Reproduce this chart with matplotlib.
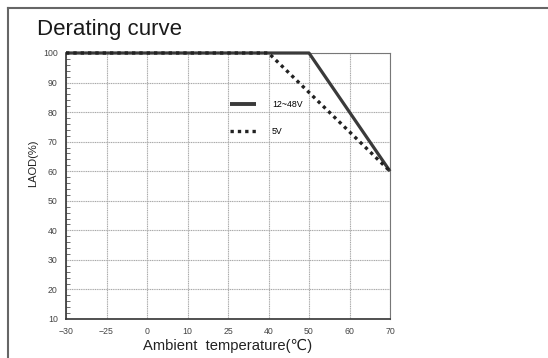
import matplotlib
matplotlib.use("Agg")
import matplotlib.pyplot as plt
from matplotlib.lines import Line2D
from matplotlib.ticker import FixedLocator, MultipleLocator

# Data
temps = [-30, -25, 0, 10, 25, 40, 50, 60, 70]
tick_labels = ["\u221230", "\u221225", "0", "10", "25", "40", "50", "60", "70"]
x_12_48 = [-30, 50, 70]
y_12_48 = [100, 100, 60]
x_5v = [-30, 40, 70]
y_5v = [100, 100, 60]
series_labels = ["12~48V", "5V"]
y_ticks = [10, 20, 30, 40, 50, 60, 70, 80, 90, 100]

FONT = ["Liberation Sans", "DejaVu Sans", "Noto Sans CJK SC"]
plt.rcParams["font.family"] = FONT

def pos(t):
    return temps.index(t)

fig = plt.figure(figsize=(5.48, 3.58), dpi=100)
ax = fig.add_axes([66/548, 1-319/358, 324/548, 266/358])

ax.set_xlim(0, len(temps)-1)
ax.set_ylim(10, 100)
ax.xaxis.set_major_locator(FixedLocator(range(len(temps))))
ax.set_xticklabels(tick_labels)
ax.set_yticks(y_ticks)
ax.yaxis.set_minor_locator(MultipleLocator(2))

ax.grid(True, which="major", color="#a8a8a8", linestyle=(0, (1, 0.6)), linewidth=0.8)
ax.tick_params(axis="both", which="major", length=0, labelsize=6.3, colors="#444444", pad=6)
ax.tick_params(axis="y", which="minor", direction="in", length=3, width=0.6, color="#555555")
ax.tick_params(axis="x", which="minor", length=0)

for s in ["left", "bottom"]:
    ax.spines[s].set_color("#333333")
    ax.spines[s].set_linewidth(1.2)
for s in ["right", "top"]:
    ax.spines[s].set_color("#777777")
    ax.spines[s].set_linewidth(0.8)

l1, = ax.plot([pos(t) for t in x_12_48], y_12_48, color="#3a3a3a", linewidth=2.3,
              solid_capstyle="butt", label=series_labels[0], clip_on=False, zorder=3)
l2, = ax.plot([pos(t) for t in x_5v], y_5v, color="#222222", linewidth=2.4,
              linestyle=(0, (1, 1.2)), label=series_labels[1], clip_on=False, zorder=4)

leg = ax.legend(handles=[l1, l2], loc="upper left", bbox_to_anchor=(0.506, 0.822),
                frameon=False, fontsize=6.3, handlelength=3.0, handletextpad=1.8,
                labelspacing=2.0, borderpad=0, borderaxespad=0)
leg.legend_handles[0].set_linewidth(2.8)

ax.set_ylabel("LAOD(%)", fontsize=8, color="#222222")
ax.yaxis.set_label_coords(-0.086, 0.586)
ax.set_xlabel("Ambient  temperature(\u2103)", fontsize=10.6, color="#222222", labelpad=2)

fig.text(37/548, 1-29/358, "Derating curve", fontsize=16, color="#1a1a1a", va="center", ha="left")

# outer frame
fig.add_artist(Line2D([8/548, 1], [1-8/358, 1-8/358], color="#666666", linewidth=1.5,
                      transform=fig.transFigure))
fig.add_artist(Line2D([8/548, 8/548], [0, 1-8/358], color="#666666", linewidth=1.5,
                      transform=fig.transFigure))

fig.savefig("out.png", dpi=100, facecolor="white")
